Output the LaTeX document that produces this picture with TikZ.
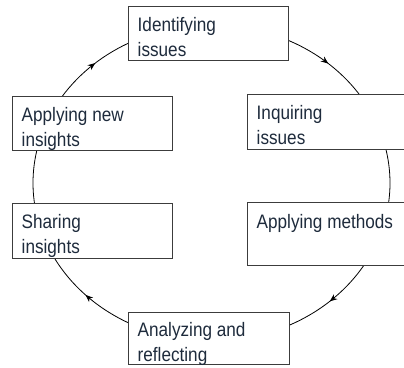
\documentclass[tikz,border=0pt]{standalone}
\usepackage{fontspec}
\setmainfont[FakeStretch=0.88]{Liberation Sans}
\usetikzlibrary{arrows.meta,decorations.markings}
\definecolor{txtc}{HTML}{1E2B3C}
\definecolor{boxc}{HTML}{3C3C3C}
\begin{document}
\begin{tikzpicture}[x=1pt,y=1pt,
  stagebox/.style={draw=boxc, line width=1pt, fill=white, rectangle, inner sep=0pt, outer sep=0pt,
    minimum width=160pt, minimum height=54pt, anchor=south west},
  stagetext/.style={text=txtc, font=\fontsize{19.5}{24.5}\selectfont, align=left, inner sep=0pt, anchor=north west},
  cycle/.style={draw=black, line width=0.8pt},
  midarrow/.style={postaction={decorate}, decoration={markings, mark=at position 0.52 with {\arrow{Stealth[length=7.5pt,width=6pt]}}}}
]
\useasboundingbox (0,0) rectangle (404,367);
% ellipse: centre (211.5,184), radii 178.5 / 158; arcs clockwise, drawn before the boxes
\draw[cycle, midarrow] ([shift={(147:178.5 and 158)}]211.5,184) arc[start angle=147, end angle=116, x radius=178.5, y radius=158];
\draw[cycle, midarrow] ([shift={(66:178.5 and 158)}]211.5,184) arc[start angle=66, end angle=33, x radius=178.5, y radius=158];
\draw[cycle] ([shift={(14:178.5 and 158)}]211.5,184) arc[start angle=14, end angle=-9, x radius=178.5, y radius=158];
\draw[cycle, midarrow] ([shift={(-30:178.5 and 158)}]211.5,184) arc[start angle=-30, end angle=-65, x radius=178.5, y radius=158];
\draw[cycle, midarrow] ([shift={(-116:178.5 and 158)}]211.5,184) arc[start angle=-116, end angle=-153, x radius=178.5, y radius=158];
\draw[cycle] ([shift={(-171:178.5 and 158)}]211.5,184) arc[start angle=-171, end angle=-193, x radius=178.5, y radius=158];
% boxes
\node[stagebox] (b1) at (128,306) {};
\node[stagebox] (b2) at (12,216) {};
\node[stagebox, minimum height=55pt] (b3) at (247,217) {};
\node[stagebox] (b4) at (12,109) {};
\node[stagebox, minimum height=62pt] (b5) at (247,102) {};
\node[stagebox, minimum width=161pt, minimum height=52pt] (b6) at (128,3) {};
% texts
\node[stagetext] (t1) at ([xshift=9.5pt,yshift=-10.5pt]b1.north west) {Identifying\\issues};
\node[stagetext] (t2) at ([xshift=9.5pt,yshift=-10.5pt]b2.north west) {Applying new\\insights};
\node[stagetext] (t3) at ([xshift=9.5pt,yshift=-10.5pt]b3.north west) {Inquiring\\issues};
\node[stagetext] (t4) at ([xshift=9.5pt,yshift=-10.5pt]b4.north west) {Sharing\\insights};
\node[stagetext] (t5) at ([xshift=9.5pt,yshift=-11pt]b5.north west) {Applying methods};
\node[stagetext] (t6) at ([xshift=9.5pt,yshift=-10.5pt]b6.north west) {Analyzing and\\reflecting};
\end{tikzpicture}
\end{document}
